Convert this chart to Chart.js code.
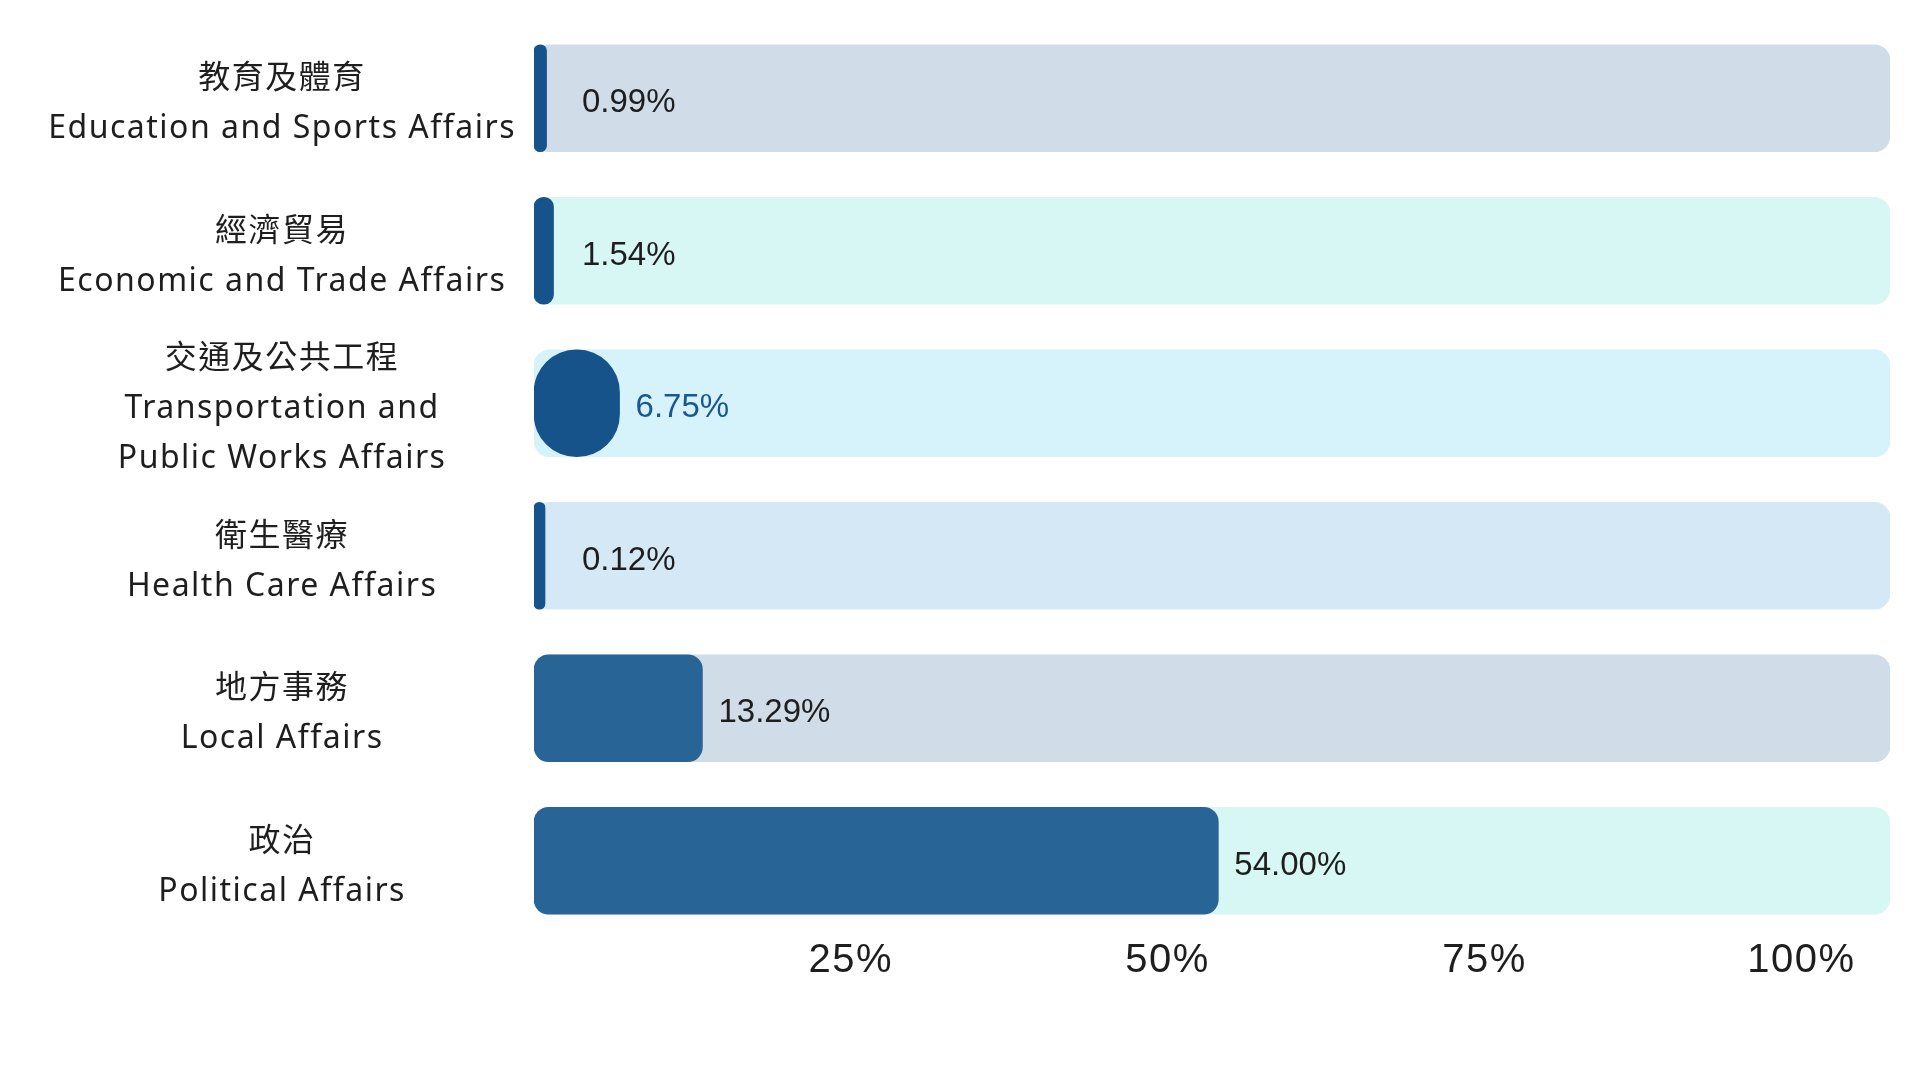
<!DOCTYPE html>
<html>
<head>
<meta charset="utf-8">
<script src="https://cdn.jsdelivr.net/npm/chart.js@4"></script>
<style>
  html, body { margin: 0; padding: 0; background: #ffffff; }
  #wrap { width: 1920px; height: 1080px; position: relative; }
</style>
</head>
<body>
<div id="wrap"><canvas id="c" width="1920" height="1080"></canvas></div>
<script>
// ---- data ----
const categories = [
  ['教育及體育', 'Education and Sports Affairs'],
  ['經濟貿易', 'Economic and Trade Affairs'],
  ['交通及公共工程', 'Transportation and', 'Public Works Affairs'],
  ['衛生醫療', 'Health Care Affairs'],
  ['地方事務', 'Local Affairs'],
  ['政治', 'Political Affairs']
];
const values = [0.99, 1.54, 6.75, 0.12, 13.29, 54.00];
const tickValues = [25, 50, 75, 100];
const axisMax = 107;

// ---- styles ----
const barColors = ['#15538a', '#15538a', '#15538a', '#15538a', '#286496', '#286496'];
const trackColors = ['#d0dce7', '#d7f7f5', '#d6f3fb', '#d5e8f5', '#d0dce7', '#d7f7f5'];
const labelColors = ['#1e1e1e', '#1e1e1e', '#1a5790', '#1e1e1e', '#1e1e1e', '#1e1e1e'];

const spacingPlugin = {
  id: 'spacing',
  beforeUpdate(chart) { chart.ctx.letterSpacing = '1.5px'; },
  beforeDraw(chart) { chart.ctx.letterSpacing = '1.5px'; }
};

const valueLabels = {
  id: 'valueLabels',
  afterDatasetsDraw(chart) {
    const ctx = chart.ctx;
    const meta = chart.getDatasetMeta(0);
    const area = chart.chartArea;
    ctx.save();
    ctx.letterSpacing = '0px';
    ctx.font = '33px "Liberation Sans", Arial, sans-serif';
    ctx.textAlign = 'left';
    ctx.textBaseline = 'middle';
    meta.data.forEach((bar, i) => {
      const x = Math.max(bar.x + 16, area.left + 48);
      ctx.fillStyle = labelColors[i];
      ctx.fillText(values[i].toFixed(2) + '%', x, bar.y + 5);
    });
    ctx.restore();
  }
};

new Chart(document.getElementById('c'), {
  type: 'bar',
  data: {
    labels: categories,
    datasets: [
      {
        label: 'share',
        data: values,
        backgroundColor: barColors,
        borderRadius: (c) => (values[c.dataIndex] < 10 ? 60 : 15),
        borderSkipped: false,
        minBarLength: 11,
        barThickness: 107,
        grouped: false
      },
      {
        label: 'track',
        data: categories.map(() => axisMax),
        backgroundColor: trackColors,
        borderRadius: 16,
        borderSkipped: false,
        barThickness: 107,
        grouped: false
      }
    ]
  },
  options: {
    indexAxis: 'y',
    responsive: false,
    animation: false,
    layout: { padding: { left: 0, right: 30, top: 22, bottom: 0 } },
    plugins: {
      legend: { display: false },
      tooltip: { enabled: false }
    },
    scales: {
      x: {
        min: 0,
        max: axisMax,
        grid: { display: false, drawTicks: false },
        border: { display: false },
        afterBuildTicks: (scale) => { scale.ticks = tickValues.map(v => ({ value: v })); },
        afterFit: (scale) => { scale.height = 143; scale.paddingLeft = 0; scale.paddingRight = 0; },
        ticks: {
          padding: 0,
          autoSkip: false,
          maxRotation: 0,
          color: '#1e1e1e',
          font: { family: '"Liberation Sans", Arial, sans-serif', size: 40, lineHeight: 1.2 },
          callback: (v) => v + '%'
        }
      },
      y: {
        grid: { display: false, drawTicks: false },
        border: { display: false },
        afterFit: (scale) => { scale.width = 534; scale.paddingTop = 0; scale.paddingBottom = 0; },
        ticks: {
          crossAlign: 'center',
          padding: 18,
          labelOffset: 6,
          autoSkip: false,
          color: '#1e1e1e',
          font: { family: '"Noto Sans", "Noto Sans CJK TC", sans-serif', size: 32, lineHeight: 1.5625 }
        }
      }
    }
  },
  plugins: [spacingPlugin, valueLabels]
});
</script>
</body>
</html>
